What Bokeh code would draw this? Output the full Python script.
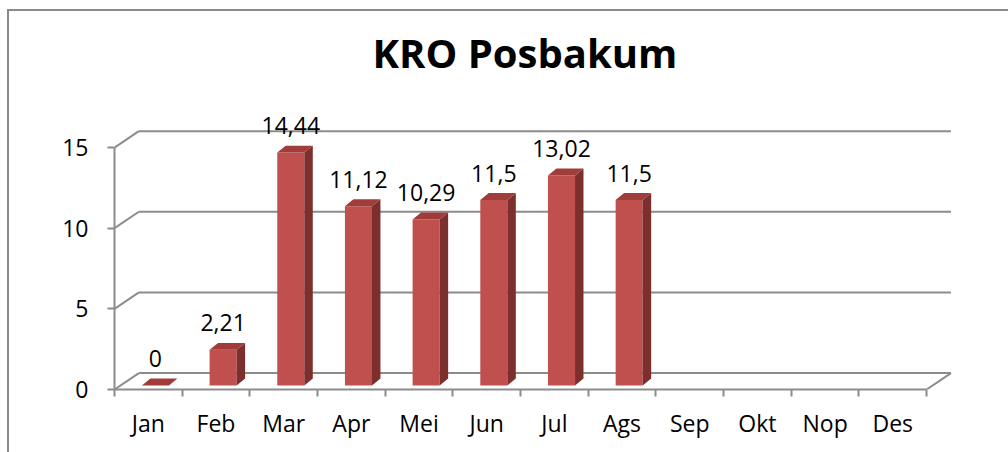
from bokeh.plotting import figure
from bokeh.models import Range1d, FixedTicker
from bokeh.core.properties import value
from bokeh.embed import file_html
from bokeh.resources import INLINE

# ---- data ----
months = ["Jan", "Feb", "Mar", "Apr", "Mei", "Jun", "Jul", "Ags", "Sep", "Okt", "Nop", "Des"]
values = [0, 2.21, 14.44, 11.12, 10.29, 11.5, 13.02, 11.5]
y_ticks = [0, 5, 10, 15]
title_text = "KRO Posbakum"

# ---- style constants (3D look) ----
DX, DY = 0.36, 1.02        # back-wall offset (data units)
BX, BY = 0.105, 0.25       # bar position offset (depth placement)
W = 0.40                   # bar front width
DDX, DDY = 0.125, 0.43     # bar depth
GAP = 1.24                 # label gap above bar
GRID = "#8c8c8c"
FRONT, SIDE, TOP = "#C0504D", "#7D2F2D", "#A03C39"
FONT = "Open Sans"

n = len(months)
p = figure(width=1008, height=452,
           x_range=Range1d(0, 13.21), y_range=Range1d(0, 18.85),
           output_backend="svg", toolbar_location=None,
           min_border_left=114, min_border_right=0,
           min_border_bottom=63, min_border_top=85)
p.background_fill_color = None
p.border_fill_color = None
p.styles = {
    "background-color": "white",
    "background-image": "linear-gradient(#8a8a8a, #8a8a8a), linear-gradient(#8a8a8a, #8a8a8a)",
    "background-size": "2px 100%, 100% 2px",
    "background-position": "7px 9px, 7px 9px",
    "background-repeat": "no-repeat",
}

p.title.text = title_text
p.title.text_font = FONT
p.title.text_font_size = "40px"
p.title.text_font_style = "bold"
p.title.text_color = "#000000"
p.title.align = "left"
p.title.offset = 258
p.title.standoff = 12

p.outline_line_color = None
p.xgrid.visible = False
p.ygrid.visible = False

# back wall gridlines + side diagonals
max_tick = max(y_ticks)
p.segment(x0=[DX] * len(y_ticks), y0=[t + DY for t in y_ticks],
          x1=[n + DX] * len(y_ticks), y1=[t + DY for t in y_ticks],
          line_color=GRID, line_width=2)
p.segment(x0=[0] * len(y_ticks), y0=y_ticks,
          x1=[DX] * len(y_ticks), y1=[t + DY for t in y_ticks],
          line_color=GRID, line_width=2)
# floor right edge
p.segment(x0=[n], y0=[0], x1=[n + DX], y1=[DY], line_color=GRID, line_width=2)

# bars
xs_front_l = [i + 0.5 + BX - W / 2 for i in range(len(values))]
xs_front_r = [i + 0.5 + BX + W / 2 for i in range(len(values))]
p.quad(left=xs_front_l, right=xs_front_r, bottom=[BY] * len(values),
       top=[v + BY for v in values], fill_color=FRONT, line_color=None)
side_x, side_y, top_x, top_y = [], [], [], []
for l, r, v in zip(xs_front_l, xs_front_r, values):
    t = v + BY
    side_x.append([r, r + DDX, r + DDX, r])
    side_y.append([BY, BY + DDY, t + DDY, t])
    top_x.append([l, r, r + DDX, l + DDX])
    top_y.append([t, t, t + DDY, t + DDY])
p.patches(side_x, side_y, fill_color=SIDE, line_color=None)
p.patches(top_x, top_y, fill_color=TOP, line_color=None)

# value labels
labels = [f"{v:g}".replace(".", ",") for v in values]
p.text(x=[i + 0.5 + BX for i in range(len(values))],
       y=[v + BY + DDY + GAP for v in values], text=labels,
       text_font=value(FONT), text_font_size="23px", text_color="#000000",
       text_align="center", text_baseline="alphabetic")

# axes
xa = p.xaxis[0]
xa.ticker = FixedTicker(ticks=[i + 0.5 for i in range(n)], minor_ticks=list(range(n + 1)))
xa.major_label_overrides = {i + 0.5: m for i, m in enumerate(months)}
xa.bounds = (0, n)
xa.axis_line_color = GRID
xa.axis_line_width = 2
xa.major_tick_line_color = None
xa.major_tick_out = 0
xa.major_tick_in = 0
xa.minor_tick_line_color = GRID
xa.minor_tick_line_width = 2
xa.minor_tick_out = 7
xa.minor_tick_in = 0
xa.major_label_standoff = 10
xa.major_label_text_font = FONT
xa.major_label_text_font_size = "23px"
xa.major_label_text_color = "#000000"

ya = p.yaxis[0]
ya.ticker = FixedTicker(ticks=y_ticks, minor_ticks=[])
ya.bounds = (0, max_tick)
ya.axis_line_color = GRID
ya.axis_line_width = 2
ya.major_tick_line_color = GRID
ya.major_tick_line_width = 2
ya.major_tick_out = 7
ya.major_tick_in = 0
ya.minor_tick_line_color = None
ya.major_label_standoff = 19
ya.major_label_text_font = FONT
ya.major_label_text_font_size = "23px"
ya.major_label_text_color = "#000000"

open("out.html", "w").write(file_html(p, INLINE))
